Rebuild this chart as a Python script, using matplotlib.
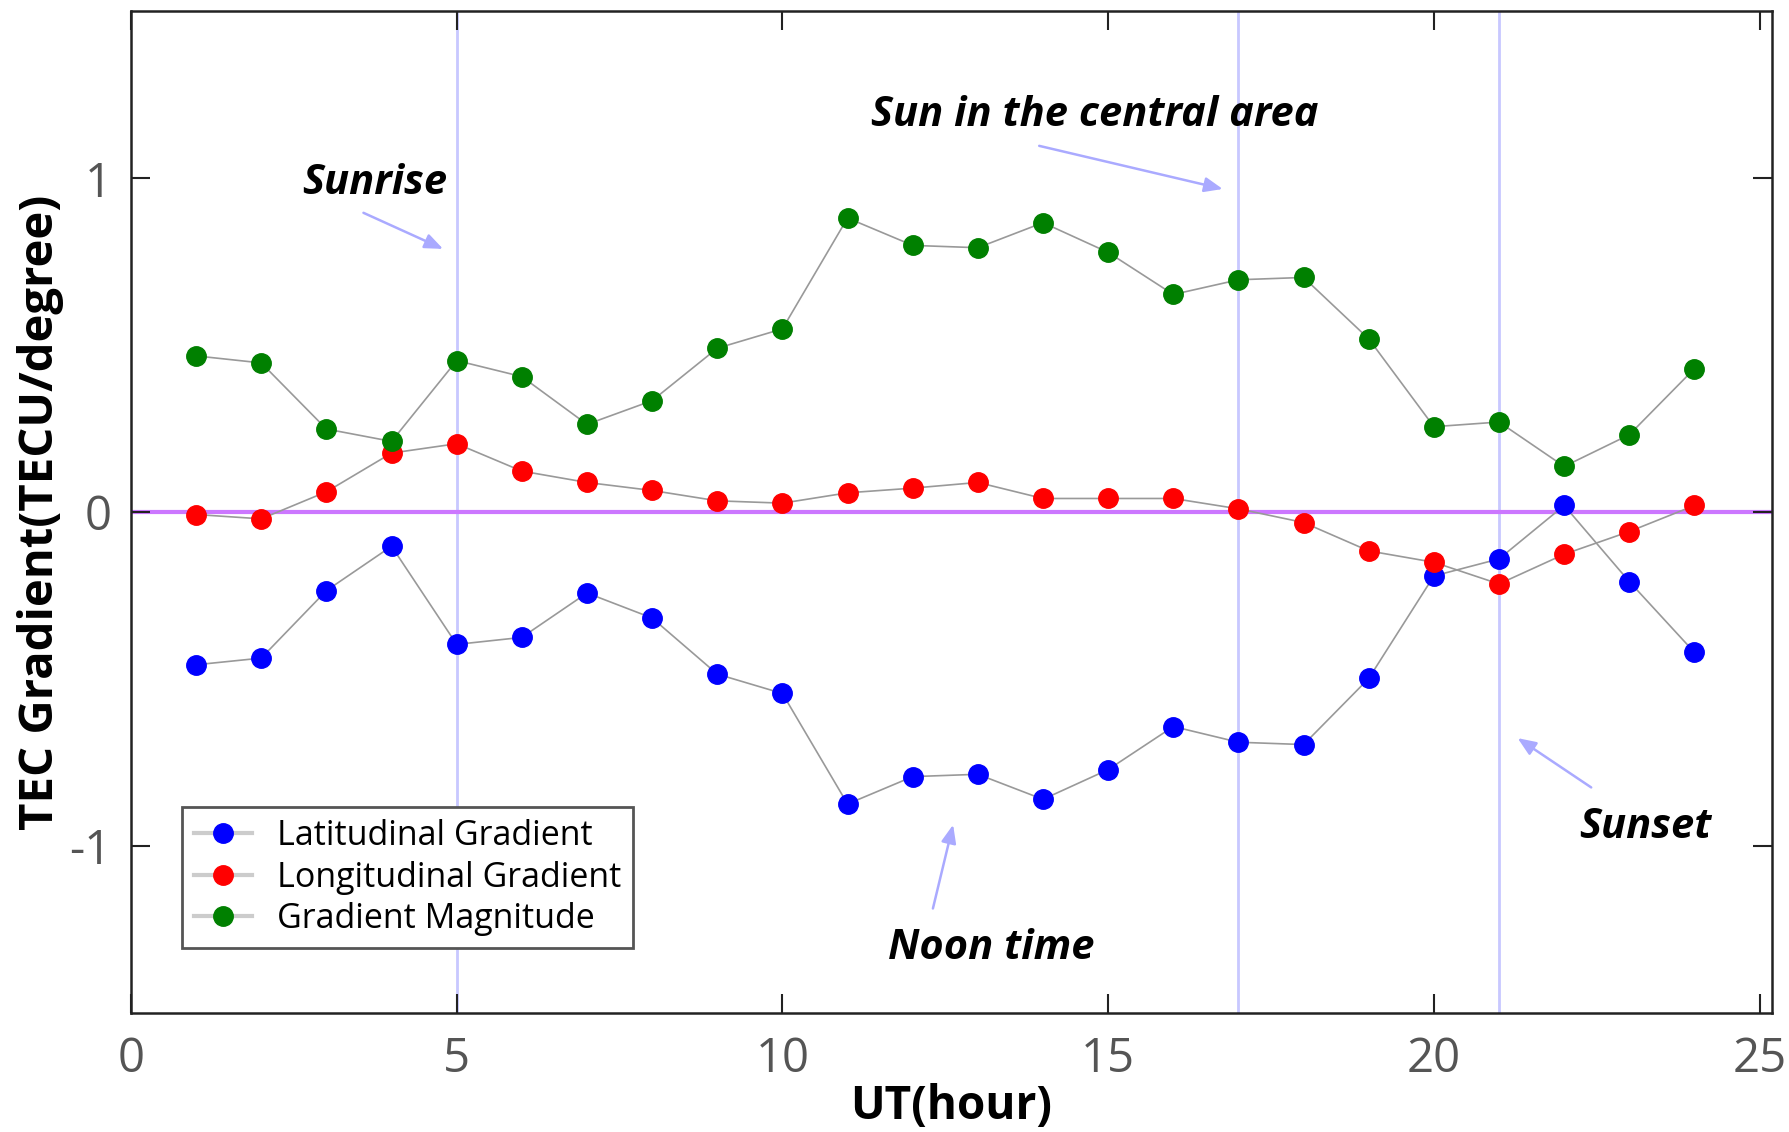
import matplotlib
matplotlib.use("Agg")
import matplotlib.pyplot as plt

# hourly TEC gradients (UT hour 1..24)
hours = list(range(1, 25))
lat_grad = [-0.457, -0.437, -0.235, -0.102, -0.396, -0.375, -0.242, -0.317,
            -0.485, -0.543, -0.874, -0.792, -0.785, -0.860, -0.771, -0.642,
            -0.689, -0.696, -0.498, -0.191, -0.140, 0.020, -0.208, -0.420]
lon_grad = [-0.007, -0.020, 0.061, 0.177, 0.205, 0.123, 0.089, 0.065,
            0.034, 0.027, 0.058, 0.072, 0.089, 0.041, 0.041, 0.041,
            0.010, -0.031, -0.116, -0.150, -0.215, -0.126, -0.058, 0.020]
grad_mag = [0.468, 0.447, 0.249, 0.212, 0.454, 0.406, 0.263, 0.334,
            0.491, 0.549, 0.881, 0.799, 0.792, 0.867, 0.778, 0.652,
            0.696, 0.703, 0.519, 0.256, 0.270, 0.137, 0.232, 0.430]

xticks = [0, 5, 10, 15, 20, 25]
yticks = [-1, 0, 1]
ytick_labels = ['-1', '0', '1']

event_hours = [5, 17, 21]
events = [
    ("Sunrise", (3.74, 0.983), (3.53, 0.90), (4.83, 0.785)),
    ("Sun in the central area", (14.8, 1.188), (13.9, 1.099), (16.8, 0.966)),
    ("Noon time", (13.2, -1.307), (12.3, -1.195), (12.63, -0.928)),
    ("Sunset", (23.25, -0.945), (22.45, -0.829), (21.25, -0.672)),
]

plt.rcParams['font.family'] = ['Open Sans', 'DejaVu Sans']

fig = plt.figure(figsize=(17.89, 11.32), dpi=100)
ax = fig.add_axes([0.0732, 0.1051, 0.9173, 0.8849])

for h in event_hours:
    ax.axvline(h, color='#c8c8ff', lw=2, zorder=1)
ax.axhline(0, color='#cc77ff', lw=3, zorder=1)

series = [(lat_grad, 'blue', 'Latitudinal Gradient'),
          (lon_grad, 'red', 'Longitudinal Gradient'),
          (grad_mag, 'green', 'Gradient Magnitude')]
for vals, col, name in series:
    ax.plot(hours, vals, '-', color='#999999', lw=1.2, zorder=2)
    ax.plot(hours, vals, 'o', color=col, ms=14, zorder=3)

# legend handles: grey line with coloured dot
handles = [plt.Line2D([], [], color='#cccccc', lw=3, marker='o', ms=14,
                      markerfacecolor=c, markeredgecolor=c) for _, c, _ in series]
leg = ax.legend(handles, [n for _, _, n in series], loc='lower left',
                bbox_to_anchor=(0.031, 0.065), borderaxespad=0, fontsize=24.5,
                fancybox=False, framealpha=1, edgecolor='#555555',
                handlelength=1.7, borderpad=0.35, labelspacing=0.22,
                handletextpad=0.75)
leg.get_frame().set_linewidth(2)

for text, tpos, a0, a1 in events:
    ax.text(*tpos, text, fontsize=30, fontweight='bold', style='italic',
            ha='center', va='center', zorder=5)
    ax.annotate('', xy=a1, xytext=a0,
                arrowprops=dict(arrowstyle='-|>,head_length=1.1,head_width=0.45',
                                color='#aaaaff', lw=1.8))

ax.set_xlim(0, 25.19)
ax.set_ylim(-1.5, 1.5)
ax.set_xticks(xticks)
ax.set_yticks(yticks)
ax.set_yticklabels(ytick_labels)
ax.tick_params(direction='in', length=14, width=1.5, top=True, right=True,
               labelsize=34, labelcolor='#555555', color='#222222')
ax.tick_params(axis='x', pad=16)
ax.tick_params(axis='y', pad=14)
for sp in ax.spines.values():
    sp.set_linewidth(1.8)
    sp.set_color('#222222')

ax.set_xlabel('UT(hour)', fontsize=33, fontweight='bold', labelpad=0)
ax.set_ylabel('TEC Gradient(TECU/degree)', fontsize=34, fontweight='bold', labelpad=4)

fig.savefig('out.png', dpi=100)
